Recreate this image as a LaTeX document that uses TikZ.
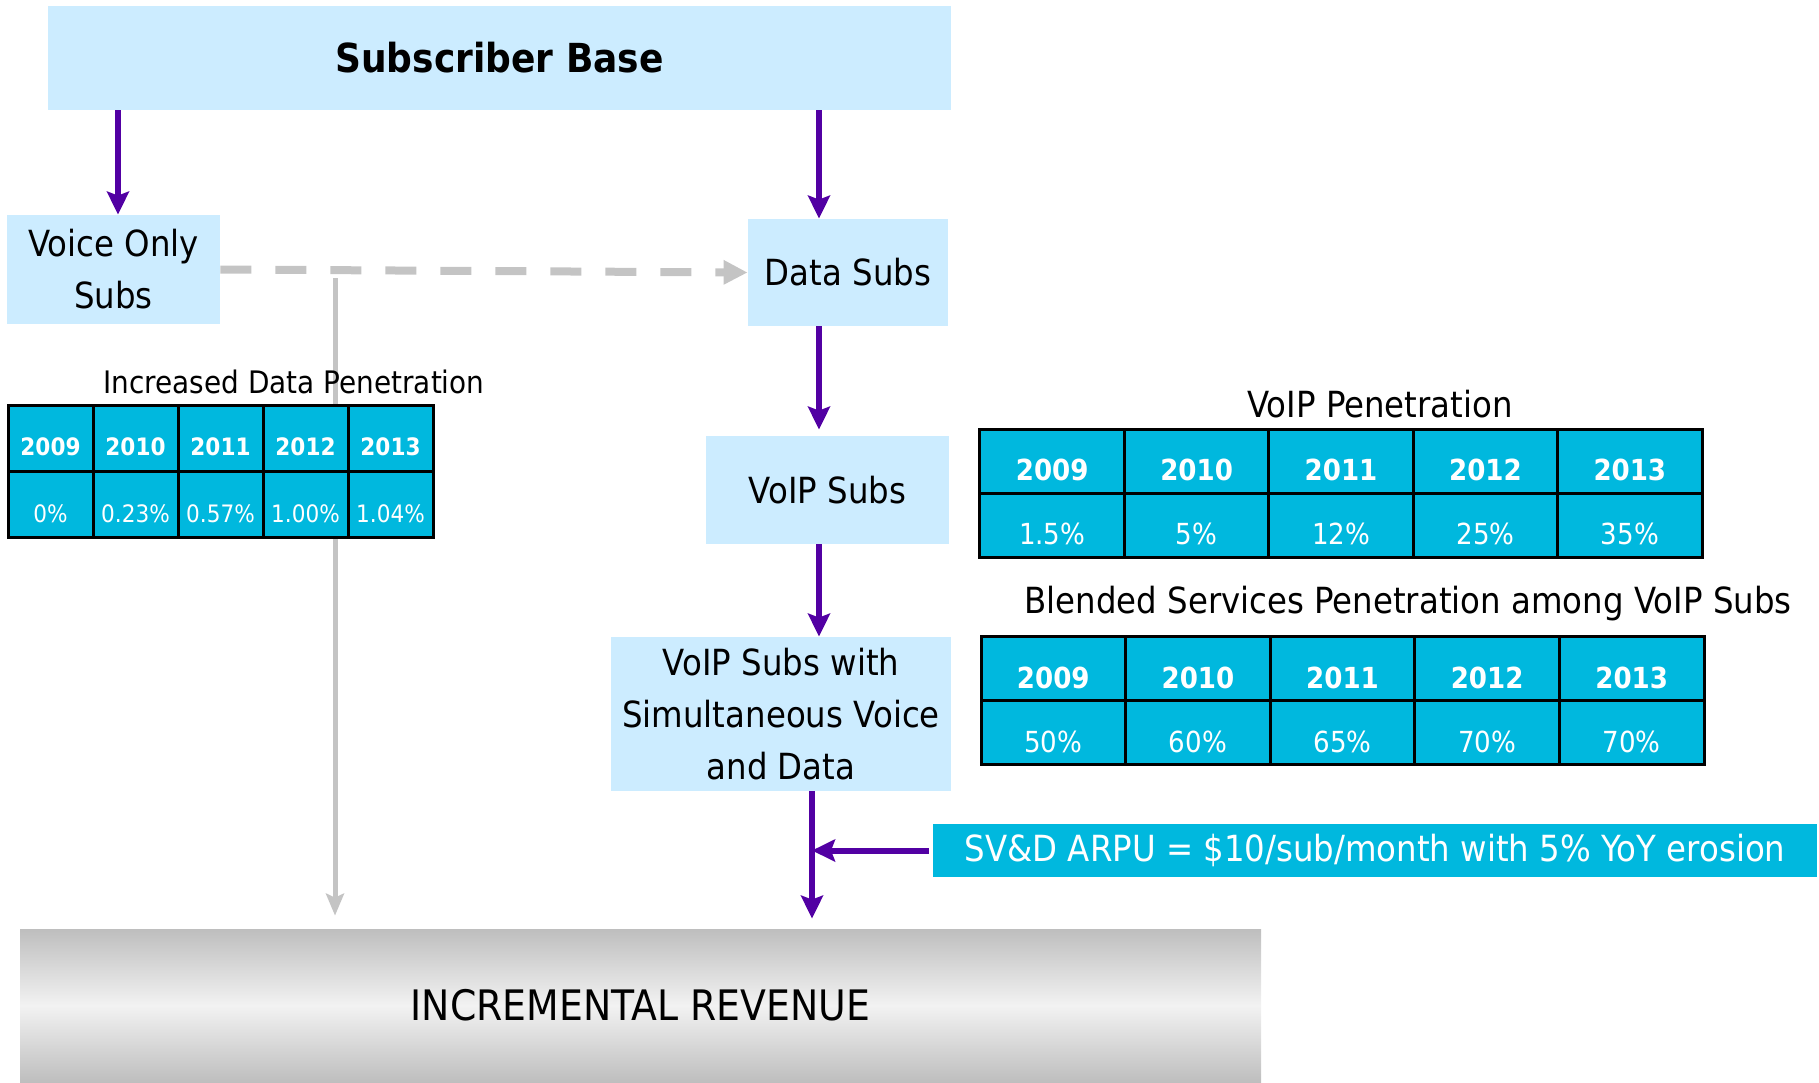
\documentclass[tikz,border=0pt]{standalone}
\usepackage{fontspec}
\setmainfont{DejaVu Sans}[FakeStretch=0.9]
\usetikzlibrary{positioning,arrows.meta}

\definecolor{subblue}{HTML}{CCECFF}
\definecolor{tablecyan}{HTML}{00B8DE}
\definecolor{flowpurple}{HTML}{5200A3}
\definecolor{hintgray}{HTML}{C4C4C4}
\definecolor{revgray}{HTML}{BEBEBE}
\definecolor{revlight}{HTML}{F2F2F2}

\tikzset{
  subs box/.style={fill=subblue, inner sep=0pt, align=center,
    font=\fontsize{18}{26}\selectfont},
  year cell/.style={draw=black, line width=1.5pt, fill=tablecyan,
    text=white, inner sep=0pt, text depth=0pt},
  small cell/.style={year cell, minimum width=42.5pt, minimum height=33pt,
    text height=17.7pt},
  wide cell/.style={year cell, minimum width=72.3pt, minimum height=32pt,
    text height=19.6pt},
  flow/.style={draw=flowpurple, line width=3pt,
    -{Stealth[length=11.5pt, width=11pt, inset=2pt]}},
  upgrade/.style={draw=hintgray, line width=4pt,
    dash pattern=on 15.5pt off 12pt, -{Triangle[length=12pt, width=11.5pt]}},
  hint/.style={draw=hintgray, line width=2.5pt,
    -{Stealth[length=11pt, width=9pt, inset=2pt]}},
  title/.style={font=\fontsize{18}{22}\selectfont}
}

\begin{document}
\begin{tikzpicture}[x=0.5pt, y=-0.5pt]
\useasboundingbox (0,0) rectangle (1819,1082);

% Draw the subscriber boxes
\node [subs box, minimum width=451.5pt, minimum height=52pt,
  font=\fontsize{20}{24}\selectfont\bfseries] (base) at (499.5,58) {Subscriber Base};
\node [subs box, minimum width=106.5pt, minimum height=54.5pt] (voice) at (113.5,269.5) {Voice Only\\Subs};
\node [subs box, minimum width=100pt, minimum height=53.5pt] (data) at (848,272.5) {Data Subs};
\node [subs box, minimum width=121.5pt, minimum height=54pt] (voip) at (827.5,490) {VoIP Subs};
\node [subs box, minimum width=170pt, minimum height=77pt] (svd) at (781,714) {VoIP Subs with\\Simultaneous Voice\\and Data};

% ARPU and revenue
\node [fill=tablecyan, text=white, minimum width=442pt, minimum height=26.5pt,
  inner sep=0pt, font=\fontsize{18}{22}\selectfont] (arpu) at (1375,850.5)
  {SV\&D ARPU = \$10/sub/month with 5\% YoY erosion};
\node [top color=revgray, bottom color=revgray, middle color=revlight,
  minimum width=620.5pt, minimum height=76.5pt, inner sep=0pt,
  font=\fontsize{21}{24}\selectfont] (revenue) at (640.5,1005.5) {INCREMENTAL REVENUE};

% Where the vertical connectors run
\coordinate (drop-voice) at (118,0);
\coordinate (spine) at (819,0);
\coordinate (drop-rev) at (812,0);
\coordinate (branch) at (335,278);

% Connect the boxes
\draw [flow] (base.south -| drop-voice) -- (voice.north -| drop-voice);
\draw [flow] (base.south -| spine) -- (data.north -| spine);
\draw [flow, shorten >=3pt] (data.south -| spine) -- (voip.north -| spine);
\draw [flow] (voip.south -| spine) -- (svd.north -| spine);
\draw [flow, shorten >=5pt] (svd.south -| drop-rev) -- (revenue.north -| drop-rev);
\draw [flow, shorten <=2pt] (arpu.west) -- (arpu.west -| drop-rev);
\draw [upgrade] (voice.east) -- (data.west);
\draw [hint, shorten >=6.5pt] (branch) -- (revenue.north -| branch);

% Increased data penetration table
\node [font=\fontsize{15.5}{18}\selectfont] (data-title) at (294,382) {Increased Data Penetration};
\foreach \yr/\pc [count=\i from 0] in {2009/0\%, 2010/0.23\%, 2011/0.57\%, 2012/1.00\%, 2013/1.04\%} {
  \node [small cell, font=\fontsize{12}{14}\selectfont\bfseries] (data-yr-\i) at (50.5+85*\i,438) {\yr};
  \node [small cell, font=\fontsize{12}{14}\selectfont] (data-pc-\i) at (50.5+85*\i,504.5) {\pc};
}

% VoIP penetration table
\node [title] (voip-title) at (1380,404) {VoIP Penetration};
\foreach \yr/\pc [count=\i from 0] in {2009/1.5\%, 2010/5\%, 2011/12\%, 2012/25\%, 2013/35\%} {
  \node [wide cell, font=\fontsize{14.5}{17}\selectfont\bfseries] (voip-yr-\i) at (1052.2+144.4*\i,461) {\yr};
  \node [wide cell, font=\fontsize{14.5}{17}\selectfont] (voip-pc-\i) at (1052.2+144.4*\i,525) {\pc};
}

% Blended services table
\node [title] (blend-title) at (1408,604) {Blended Services Penetration among VoIP Subs};
\foreach \yr/\pc [count=\i from 0] in {2009/50\%, 2010/60\%, 2011/65\%, 2012/70\%, 2013/70\%} {
  \node [wide cell, font=\fontsize{14.5}{17}\selectfont\bfseries] (blend-yr-\i) at (1053.3+144.6*\i,668.5) {\yr};
  \node [wide cell, font=\fontsize{14.5}{17}\selectfont] (blend-pc-\i) at (1053.3+144.6*\i,732.5) {\pc};
}
\end{tikzpicture}
\end{document}
